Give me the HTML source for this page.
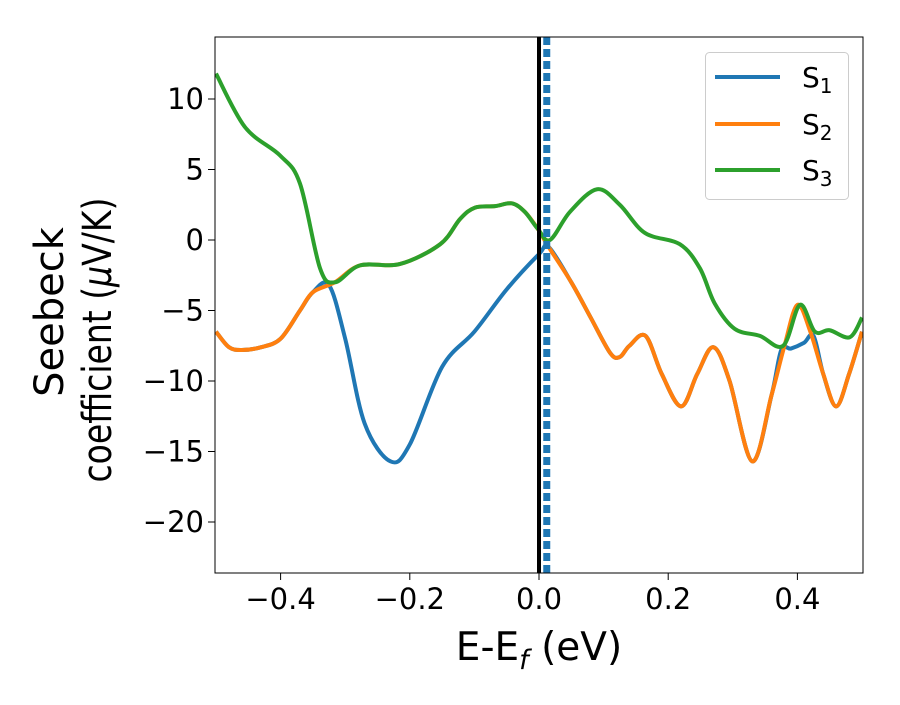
<!DOCTYPE html>
<html><head><meta charset="utf-8"><style>
body{margin:0;background:#fff;}
svg text{font-family:"DejaVu Sans","Liberation Sans",sans-serif;fill:#000;}
</style></head><body>
<svg id="chart" width="900" height="700" xmlns="http://www.w3.org/2000/svg">
<defs><clipPath id="clip"><rect x="215" y="37" width="648" height="536"/></clipPath></defs>
<g id="series" clip-path="url(#clip)"></g>
<rect x="215" y="37" width="648" height="536" fill="none" stroke="#000" stroke-width="1"/>
<g id="ticks"></g>
<text x="539" y="660" font-size="39" text-anchor="middle">E-E<tspan font-style="italic" font-size="27" dy="9">f</tspan><tspan dy="-9"> (eV)</tspan></text>
<text transform="translate(63,312) rotate(-90)" font-size="40" text-anchor="middle">Seebeck</text>
<text transform="translate(111,340) rotate(-90)" font-size="40" text-anchor="middle" textLength="285" lengthAdjust="spacingAndGlyphs">coefficient  (<tspan font-style="italic">μ</tspan>V/K)</text>
<g>
<rect x="705.5" y="52.5" width="143" height="147" rx="4" fill="#fff" fill-opacity="0.8" stroke="#ccc"/>
<line x1="715" y1="77" x2="780" y2="77" stroke="#1f77b4" stroke-width="4"/>
<text x="802" y="87" font-size="28">S<tspan font-size="20" dy="6">1</tspan></text>
<line x1="715" y1="124" x2="780" y2="124" stroke="#ff7f0e" stroke-width="4"/>
<text x="802" y="134" font-size="28">S<tspan font-size="20" dy="6">2</tspan></text>
<line x1="715" y1="170" x2="780" y2="170" stroke="#2ca02c" stroke-width="4"/>
<text x="802" y="180" font-size="28">S<tspan font-size="20" dy="6">3</tspan></text>
</g>
</svg>
<script>
const xTicks=[-0.4,-0.2,0.0,0.2,0.4];
const xTickLabels=["\u22120.4","\u22120.2","0.0","0.2","0.4"];
const yTicks=[10,5,0,-5,-10,-15,-20];
const yTickLabels=["10","5","0","\u22125","\u221210","\u221215","\u221220"];
const s3X=[-0.5,-0.455,-0.401,-0.37,-0.339,-0.316,-0.277,-0.215,-0.153,-0.122,-0.099,-0.068,-0.042,-0.022,-0.002,0.017,0.048,0.09,0.125,0.164,0.218,0.249,0.272,0.303,0.342,0.378,0.404,0.427,0.45,0.481,0.5];
const s3Y=[11.8,8,6,4,-2,-3,-1.8,-1.7,-0.3,1.5,2.3,2.4,2.6,2,0.8,0,2,3.6,2.5,0.5,-0.3,-2,-4.5,-6.3,-6.8,-7.5,-4.6,-6.5,-6.4,-6.9,-5.5];
const s2X=[-0.5,-0.48,-0.46,-0.43,-0.4,-0.37,-0.35,-0.316,-0.277,-0.215,-0.153,-0.122,-0.099,-0.068,-0.042,-0.022,-0.002,0.015,0.05,0.08,0.11,0.125,0.14,0.165,0.19,0.22,0.245,0.27,0.295,0.33,0.36,0.38,0.4,0.42,0.44,0.46,0.48,0.5];
const s2Y=[-6.5,-7.6,-7.8,-7.6,-7,-5,-3.7,-3,-1.8,-1.7,-0.3,1.5,2.3,2.4,2.6,2,0.8,-0.5,-3,-5.5,-8,-8.3,-7.5,-6.8,-9.5,-11.8,-9.5,-7.6,-10,-15.7,-11,-7.5,-4.6,-6.5,-9.5,-11.8,-9.5,-6.5];
const s1X=[-0.5,-0.48,-0.46,-0.43,-0.4,-0.37,-0.35,-0.325,-0.3,-0.27,-0.23,-0.2,-0.15,-0.1,-0.05,0,0.015,0.05,0.08,0.11,0.125,0.14,0.165,0.19,0.22,0.245,0.27,0.295,0.33,0.36,0.375,0.39,0.41,0.425,0.44,0.46,0.48,0.5];
const s1Y=[-6.5,-7.6,-7.8,-7.6,-7,-5,-3.7,-3.2,-7,-13,-15.7,-14.5,-9,-6.5,-3.5,-1,-0.5,-3,-5.5,-8,-8.3,-7.5,-6.8,-9.5,-11.8,-9.5,-7.6,-10,-15.7,-11,-7.8,-7.7,-7.3,-6.8,-9.5,-11.8,-9.5,-6.5];
const vLines=[0.0,0.012];
const X=v=>539+v*646, Y=v=>240-v*14.1;
const NS="http://www.w3.org/2000/svg";
function mk(t,a,p){const e=document.createElementNS(NS,t);for(const k in a)e.setAttribute(k,a[k]);p.appendChild(e);return e;}
function path(xs,ys){const p=xs.map((x,i)=>[X(x),Y(ys[i])]);let d="M"+p[0][0]+","+p[0][1];
for(let i=0;i<p.length-1;i++){const p0=p[i-1]||p[i],p1=p[i],p2=p[i+1],p3=p[i+2]||p2;
d+=` C${p1[0]+(p2[0]-p0[0])/6},${p1[1]+(p2[1]-p0[1])/6} ${p2[0]-(p3[0]-p1[0])/6},${p2[1]-(p3[1]-p1[1])/6} ${p2[0]},${p2[1]}`;}return d;}
const g=document.getElementById('series');
const l1=mk('path',{d:path(s1X,s1Y),fill:'none',stroke:'#1f77b4','stroke-width':4},g);


const l2=mk('path',{d:path(s2X,s2Y),fill:'none',stroke:'#ff7f0e','stroke-width':4},g);


const l3=mk('path',{d:path(s3X,s3Y),fill:'none',stroke:'#2ca02c','stroke-width':4},g);


const v0=mk('line',{x1:X(vLines[0]),x2:X(vLines[0]),y1:37,y2:573,stroke:'#000','stroke-width':4},g);


const v1=mk('line',{x1:X(vLines[1]),x2:X(vLines[1]),y1:37,y2:573,stroke:'#1f77b4','stroke-width':7,'stroke-dasharray':'8,4'},g);


const t=document.getElementById('ticks');
xTicks.forEach((v,i)=>{mk('line',{x1:X(v),x2:X(v),y1:573,y2:580,stroke:'#000'},t);
const tx=mk('text',{x:X(v),y:609,'font-size':29,'text-anchor':'middle'},t);tx.textContent=xTickLabels[i];

});
yTicks.forEach((v,i)=>{mk('line',{x1:208,x2:215,y1:Y(v),y2:Y(v),stroke:'#000'},t);
const tx=mk('text',{x:204,y:Y(v)+10,'font-size':29,'text-anchor':'end'},t);tx.textContent=yTickLabels[i];

});
</script>
</body></html>
